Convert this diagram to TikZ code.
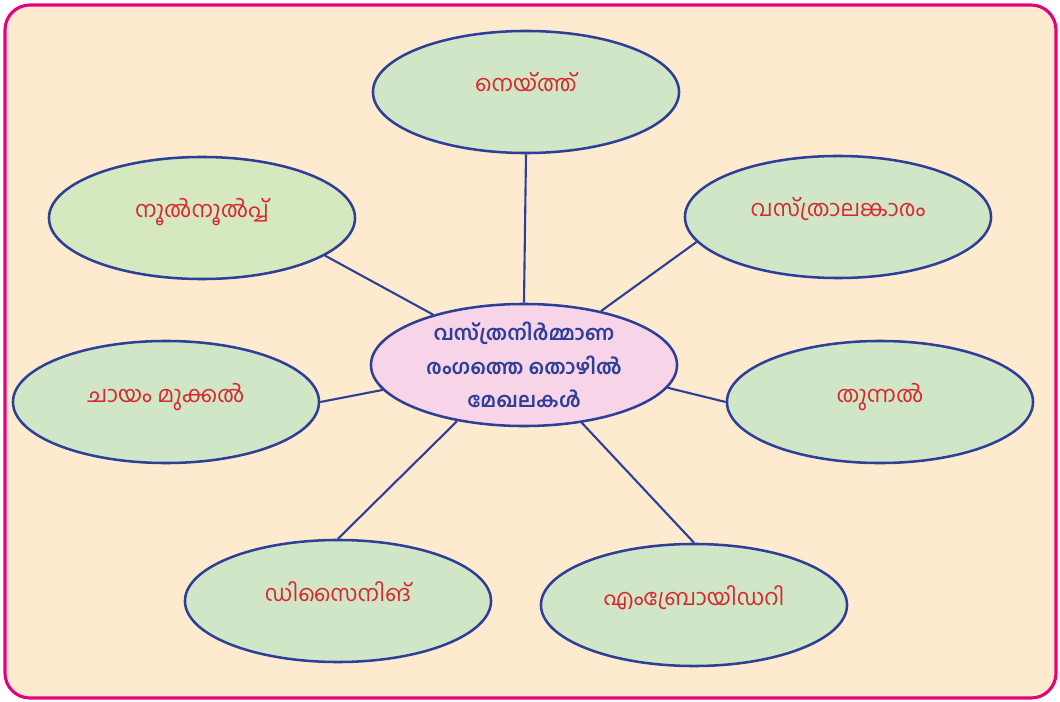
\documentclass[tikz,border=0pt]{standalone}
\usepackage{fontspec}
\usepackage{tikz}
\usetikzlibrary{shapes.geometric}
\newfontfamily\mlfont[Script=Malayalam]{Hind Kochi}
\definecolor{paper}{HTML}{FEEBCF}
\definecolor{frame}{HTML}{E5007D}
\definecolor{rim}{HTML}{2E3F98}
\definecolor{leaf}{HTML}{D1E6C6}
\definecolor{leaftwo}{HTML}{D6E8C0}
\definecolor{rose}{HTML}{F8D4E8}
\definecolor{ink}{HTML}{D7282F}

\begin{document}
\begin{tikzpicture}[x=0.025cm,y=-0.025cm,
    bubble/.style={ellipse, draw=rim, line width=1.8pt, fill=leaf,
      minimum width=7.65cm, minimum height=3.05cm, inner sep=0pt},
    topic/.style={bubble, text=ink, text height=0.55em, text depth=0.55em,
      font=\mlfont\fontsize{16}{20}\selectfont},
    link/.style={draw=rim, line width=1.5pt}]
	\useasboundingbox (0,0) rectangle (1060,702);
	\draw[frame, line width=2.2pt, fill=paper, rounded corners=0.62cm] (5,5) rectangle (1056,698);

	\node[bubble, fill=rose, text=rim, align=center,
	      font=\mlfont\bfseries\fontsize{14.5}{24}\selectfont] (hub) at (524,365)
	      {വസ്ത്രനിർമ്മാണ\\രംഗത്തെ തൊഴിൽ\\മേഖലകൾ};
	\node[topic] (weave) at (526,92) {നെയ്ത്ത്};
	\node[topic, fill=leaftwo] (spin) at (202,218) {നൂൽനൂൽപ്പ്};
	\node[topic] (decor) at (838,217) {വസ്ത്രാലങ്കാരം};
	\node[topic] (dye) at (166,402) {ചായം മുക്കൽ};
	\node[topic] (stitch) at (880,402) {തുന്നൽ};
	\node[topic] (design) at (338,601) {ഡിസൈനിങ്};
	\node[topic] (embro) at (694,605) {എംബ്രോയിഡറി};

	\draw[link] (hub.north) -- (weave.south);
	\draw[link] (hub.151) -- (spin.-17);
	\draw[link] (hub.35) -- (decor.190);
	\draw[link] (hub.190) -- (dye.east);
	\draw[link] (hub.-9) -- (stitch.west);
	\draw[link] (hub.220) -- (design.north);
	\draw[link] (hub.-45) -- (embro.north);
\end{tikzpicture}
\end{document}
